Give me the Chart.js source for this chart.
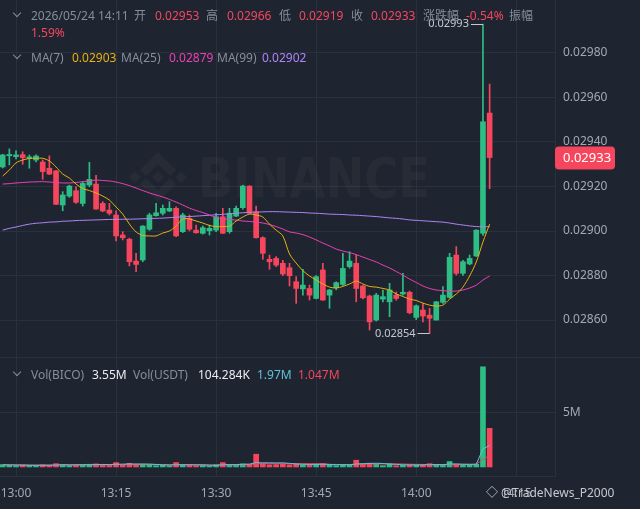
<!DOCTYPE html>
<html>
<head>
<meta charset="utf-8">
<script src="https://cdn.jsdelivr.net/npm/chart.js@4.4.1/dist/chart.umd.min.js"></script>
<style>
  body { margin: 0; background: #1f2530; width: 640px; height: 509px; overflow: hidden; position: relative;
         font-family: "Noto Sans", "Noto Sans CJK SC", sans-serif; }
  canvas { position: absolute; left: 0; }
  .t { position: absolute; font-size: 12px; line-height: 16px; color: #848e9c; white-space: nowrap; }
  .r { color: #f6465d; }
  .w { color: #eaecef; }
  .chev { position: absolute; width: 5px; height: 5px; border-right: 1.3px solid #848e9c;
          border-bottom: 1.3px solid #848e9c; transform: rotate(45deg); }
  #sep { position: absolute; left: 0; top: 357px; width: 640px; height: 1px; background: #2b313c; }
</style>
</head>
<body>
<canvas id="price" width="640" height="357" style="top:0"></canvas>
<canvas id="vol" width="640" height="152" style="top:357px"></canvas>
<div id="sep"></div>

<!-- legenda OHLC -->
<div class="chev" style="left:14px;top:10px"></div>
<span class="t" style="left:31px;top:8px">2026/05/24 14:11</span>
<span class="t" style="left:134px;top:8px">开</span>
<span class="t r" style="left:155px;top:8px">0.02953</span>
<span class="t" style="left:206px;top:8px">高</span>
<span class="t r" style="left:227px;top:8px">0.02966</span>
<span class="t" style="left:279px;top:8px">低</span>
<span class="t r" style="left:299px;top:8px">0.02919</span>
<span class="t" style="left:351px;top:8px">收</span>
<span class="t r" style="left:371px;top:8px">0.02933</span>
<span class="t" style="left:423px;top:8px">涨跌幅</span>
<span class="t r" style="left:466px;top:8px">-0.54%</span>
<span class="t" style="left:509px;top:8px">振幅</span>
<span class="t r" style="left:31px;top:25px">1.59%</span>

<!-- legenda MA -->
<div class="chev" style="left:14px;top:52px"></div>
<span class="t" style="left:31px;top:50px">MA(7)</span>
<span class="t" style="left:72px;top:50px;color:#e9b10e">0.02903</span>
<span class="t" style="left:121px;top:50px">MA(25)</span>
<span class="t" style="left:169px;top:50px;color:#eb40b5">0.02879</span>
<span class="t" style="left:217px;top:50px">MA(99)</span>
<span class="t" style="left:262px;top:50px;color:#b084f7">0.02902</span>

<!-- legenda volume -->
<div class="chev" style="left:14px;top:369px"></div>
<span class="t" style="left:31px;top:367px">Vol(BICO)</span>
<span class="t w" style="left:92px;top:367px">3.55M</span>
<span class="t" style="left:133px;top:367px">Vol(USDT)</span>
<span class="t w" style="left:198px;top:367px">104.284K</span>
<span class="t" style="left:257px;top:367px;color:#5fc3da">1.97M</span>
<span class="t r" style="left:298px;top:367px">1.047M</span>

<span class="t" style="left:486px;top:485px;color:#c4c9d0">&#9671; @TradeNews_P2000</span>

<script>
// horários dos candles (1 min)
const times = [
  '12:58','12:59','13:00','13:01','13:02','13:03','13:04','13:05','13:06','13:07',
  '13:08','13:09','13:10','13:11','13:12','13:13','13:14','13:15','13:16','13:17',
  '13:18','13:19','13:20','13:21','13:22','13:23','13:24','13:25','13:26','13:27',
  '13:28','13:29','13:30','13:31','13:32','13:33','13:34','13:35','13:36','13:37',
  '13:38','13:39','13:40','13:41','13:42','13:43','13:44','13:45','13:46','13:47',
  '13:48','13:49','13:50','13:51','13:52','13:53','13:54','13:55','13:56','13:57',
  '13:58','13:59','14:00','14:01','14:02','14:03','14:04','14:05','14:06','14:07',
  '14:08','14:09','14:10','14:11'
];

const opens = [
  0.029288,0.029338,0.029334,0.029343,0.029327,0.029319,0.029310,0.029282,0.029270,0.029117,
  0.029157,0.029181,0.029124,0.029207,0.029211,0.029124,0.029094,0.029072,0.028982,0.028963,
  0.028865,0.028870,0.029008,0.029069,0.029080,0.029090,0.029102,0.028997,0.029057,0.029004,
  0.028990,0.029001,0.029004,0.029064,0.028997,0.029067,0.029105,0.029202,0.029087,0.028970,
  0.028873,0.028877,0.028855,0.028835,0.028772,0.028740,0.028742,0.028697,0.028825,0.028712,
  0.028745,0.028760,0.028840,0.028855,0.028753,0.028708,0.028600,0.028694,0.028682,0.028712,
  0.028717,0.028725,0.028612,0.028645,0.028622,0.028600,0.028680,0.028702,0.028892,0.028810,
  0.028852,0.028888,0.028990,0.029530
];
const highs = [
  0.029345,0.029369,0.029360,0.029356,0.029342,0.029342,0.029319,0.029338,0.029273,0.029177,
  0.029206,0.029199,0.029222,0.029309,0.029250,0.029132,0.029124,0.029091,0.028997,0.028968,
  0.028900,0.029025,0.029080,0.029124,0.029117,0.029132,0.029109,0.029080,0.029072,0.029027,
  0.029023,0.029027,0.029080,0.029102,0.029102,0.029112,0.029206,0.029204,0.029112,0.028974,
  0.028892,0.028885,0.028868,0.028855,0.028795,0.028828,0.028757,0.028800,0.028855,0.028738,
  0.028772,0.028900,0.028907,0.028892,0.028755,0.028712,0.028720,0.028735,0.028765,0.028726,
  0.028810,0.028730,0.028668,0.028675,0.028653,0.028684,0.028750,0.028900,0.028930,0.028868,
  0.028892,0.029006,0.029930,0.029660
];
const lows = [
  0.029283,0.029297,0.029324,0.029300,0.029282,0.029311,0.029232,0.029253,0.029118,0.029091,
  0.029151,0.029124,0.029112,0.029199,0.029097,0.029087,0.029072,0.028955,0.028960,0.028843,
  0.028817,0.028862,0.029003,0.029067,0.029072,0.029087,0.028975,0.028993,0.029001,0.028990,
  0.028986,0.028982,0.028997,0.028988,0.028990,0.029064,0.029098,0.029078,0.028968,0.028873,
  0.028828,0.028840,0.028799,0.028753,0.028675,0.028712,0.028690,0.028695,0.028688,0.028653,
  0.028736,0.028756,0.028833,0.028682,0.028695,0.028555,0.028595,0.028682,0.028615,0.028689,
  0.028712,0.028628,0.028602,0.028592,0.028540,0.028600,0.028675,0.028698,0.028802,0.028800,
  0.028848,0.028885,0.028980,0.029190
];
const closes = [
  0.029342,0.029344,0.029342,0.029330,0.029333,0.029337,0.029267,0.029256,0.029120,0.029162,
  0.029202,0.029129,0.029214,0.029232,0.029099,0.029090,0.029080,0.028978,0.028970,0.028862,
  0.028850,0.029022,0.029072,0.029082,0.029102,0.029102,0.028978,0.029072,0.029008,0.028992,
  0.029015,0.029012,0.029064,0.028990,0.029080,0.029102,0.029202,0.029080,0.028970,0.028900,
  0.028862,0.028847,0.028807,0.028799,0.028742,0.028757,0.028712,0.028795,0.028690,0.028735,
  0.028768,0.028832,0.028865,0.028742,0.028700,0.028592,0.028712,0.028705,0.028735,0.028697,
  0.028725,0.028633,0.028664,0.028618,0.028608,0.028682,0.028712,0.028882,0.028810,0.028862,
  0.028877,0.029004,0.029491,0.029330
];

// médias móveis
const ma7 = [
  0.029247,0.029274,0.029306,0.029319,0.029326,0.029327,0.029327,0.029315,0.029288,0.029256,
  0.029238,0.029211,0.029191,0.029182,0.029171,0.029157,0.029139,0.029108,0.029076,0.029031,
  0.028996,0.028980,0.028978,0.028978,0.028991,0.029000,0.029022,0.029054,0.029054,0.029045,
  0.029036,0.029025,0.029020,0.029020,0.029022,0.029045,0.029063,0.029076,0.029072,0.029063,
  0.029031,0.029004,0.028978,0.028897,0.028856,0.028822,0.028798,0.028780,0.028762,0.028748,
  0.028744,0.028751,0.028762,0.028775,0.028762,0.028751,0.028748,0.028742,0.028735,0.028717,
  0.028706,0.028694,0.028688,0.028676,0.028667,0.028663,0.028667,0.028694,0.028717,0.028748,
  0.028798,0.028861,0.028951,0.029031
];
const ma25 = [
  0.029211,0.029213,0.029216,0.029218,0.029220,0.029221,0.029222,0.029220,0.029218,0.029216,
  0.029216,0.029218,0.029222,0.029225,0.029229,0.029227,0.029225,0.029220,0.029213,0.029204,
  0.029193,0.029182,0.029171,0.029162,0.029153,0.029142,0.029130,0.029117,0.029103,0.029092,
  0.029083,0.029072,0.029061,0.029054,0.029052,0.029049,0.029045,0.029043,0.029040,0.029036,
  0.029029,0.029020,0.029009,0.028996,0.028991,0.028984,0.028973,0.028960,0.028946,0.028933,
  0.028919,0.028910,0.028903,0.028894,0.028883,0.028872,0.028861,0.028847,0.028834,0.028818,
  0.028802,0.028784,0.028769,0.028753,0.028742,0.028735,0.028732,0.028730,0.028730,0.028735,
  0.028744,0.028757,0.028780,0.028798
];
const ma99 = [
  0.029004,0.029012,0.029018,0.029025,0.029031,0.029035,0.029037,0.029040,0.029041,0.029044,
  0.029045,0.029047,0.029048,0.029049,0.029050,0.029051,0.029052,0.029052,0.029053,0.029053,
  0.029054,0.029055,0.029056,0.029057,0.029058,0.029060,0.029062,0.029064,0.029065,0.029067,
  0.029069,0.029071,0.029073,0.029075,0.029077,0.029080,0.029082,0.029084,0.029085,0.029086,
  0.029087,0.029087,0.029086,0.029085,0.029084,0.029083,0.029081,0.029080,0.029078,0.029076,
  0.029075,0.029074,0.029072,0.029071,0.029069,0.029067,0.029065,0.029062,0.029059,0.029057,
  0.029054,0.029050,0.029048,0.029046,0.029044,0.029042,0.029040,0.029036,0.029031,0.029027,
  0.029023,0.029020,0.029019,0.029020
];

// volume em milhões (BICO)
const volumes = [
  0.22,0.15,0.12,0.18,0.14,0.10,0.20,0.16,0.30,0.22,
  0.15,0.18,0.20,0.25,0.28,0.20,0.15,0.40,0.18,0.34,
  0.22,0.25,0.20,0.12,0.15,0.10,0.40,0.20,0.15,0.12,
  0.14,0.10,0.20,0.40,0.22,0.15,0.28,0.25,1.17,0.30,
  0.20,0.22,0.25,0.20,0.30,0.18,0.20,0.25,0.30,0.15,
  0.12,0.22,0.18,0.62,0.28,0.35,0.25,0.12,0.30,0.12,
  0.15,0.22,0.18,0.20,0.30,0.20,0.15,0.50,0.25,0.15,
  0.18,0.25,9.20,3.55
];
const volMa5 = [
  0.20,0.19,0.18,0.17,0.16,0.15,0.16,0.16,0.18,0.20,
  0.20,0.20,0.21,0.20,0.22,0.23,0.22,0.25,0.26,0.27,
  0.27,0.27,0.26,0.23,0.19,0.17,0.20,0.20,0.20,0.19,
  0.19,0.16,0.15,0.20,0.21,0.22,0.25,0.26,0.40,0.38,
  0.38,0.37,0.38,0.33,0.27,0.24,0.23,0.23,0.25,0.23,
  0.21,0.21,0.20,0.27,0.30,0.32,0.34,0.32,0.26,0.24,
  0.20,0.19,0.18,0.18,0.21,0.22,0.21,0.27,0.28,0.25,
  0.24,0.25,1.66,1.97
];
const volMa10 = [
  0.20,0.20,0.19,0.19,0.18,0.18,0.17,0.17,0.17,0.18,
  0.18,0.18,0.19,0.20,0.20,0.21,0.21,0.22,0.23,0.24,
  0.24,0.24,0.24,0.23,0.23,0.22,0.22,0.22,0.22,0.21,
  0.20,0.19,0.18,0.19,0.19,0.19,0.20,0.21,0.29,0.30,
  0.30,0.30,0.30,0.30,0.30,0.30,0.30,0.30,0.30,0.24,
  0.23,0.22,0.22,0.25,0.26,0.27,0.28,0.28,0.28,0.28,
  0.27,0.25,0.24,0.23,0.22,0.21,0.20,0.22,0.23,0.24,
  0.24,0.24,0.70,1.05
];

const priceTicks = [0.0286, 0.0288, 0.0290, 0.0292, 0.0294, 0.0296, 0.0298];
const volTicks = [5];
const timeTicks = ['13:00', '13:15', '13:30', '13:45', '14:00', '14:15'];

const VERDE = '#2ebd85', VERMELHO = '#f6465d';
const GRADE = '#2b313c', TEXTO = '#a3a9b2';

// minutos desde 13:00
const minutos = (t) => { const [h, m] = t.split(':').map(Number); return (h - 13) * 60 + m; };
const xs = times.map(minutos);
const tickMin = timeTicks.map(minutos);
const cores = opens.map((o, i) => closes[i] >= o ? VERDE : VERMELHO);

const X_MIN = -2.4, X_MAX = 80.8;

// tira o espaço extra que o Chart.js reserva para os rótulos
const semPadding = s => { s.paddingLeft = 0; s.paddingRight = 0; s.paddingTop = 0; s.paddingBottom = 0; };

const eixoX = (mostrarLabels) => ({
  type: 'linear', min: X_MIN, max: X_MAX, offset: false,
  grid: { color: GRADE, drawTicks: false, offset: false },
  border: { display: mostrarLabels, color: GRADE },
  afterBuildTicks: s => { s.ticks = tickMin.map(v => ({ value: v })); },
  ticks: {
    display: mostrarLabels, color: TEXTO, padding: 10, maxRotation: 0,
    font: { family: 'Noto Sans', size: 12 },
    callback: (v, i) => timeTicks[i]
  },
  afterFit: s => { s.height = mostrarLabels ? 33 : 0; semPadding(s); }
});

function diamante(ctx, cx, cy, r) {
  ctx.moveTo(cx, cy - r); ctx.lineTo(cx + r, cy); ctx.lineTo(cx, cy + r); ctx.lineTo(cx - r, cy); ctx.closePath();
}

const decoracao = {
  id: 'decoracao',
  beforeDatasetsDraw(chart) {
    const ctx = chart.ctx;
    ctx.save();
    ctx.fillStyle = 'rgba(255,255,255,0.032)';
    // logo
    ctx.beginPath();
    diamante(ctx, 158, 177, 6);
    diamante(ctx, 135, 177, 6);
    diamante(ctx, 181, 177, 6);
    ctx.moveTo(158, 152); ctx.lineTo(176, 170); ctx.lineTo(170, 176); ctx.lineTo(158, 164); ctx.lineTo(146, 176); ctx.lineTo(140, 170); ctx.closePath();
    ctx.moveTo(158, 202); ctx.lineTo(176, 184); ctx.lineTo(170, 178); ctx.lineTo(158, 190); ctx.lineTo(146, 178); ctx.lineTo(140, 184); ctx.closePath();
    ctx.fill();
    ctx.font = 'bold 56px "DejaVu Sans"';
    const w = ctx.measureText('BINANCE').width;
    ctx.translate(198, 197);
    ctx.scale(232 / w, 1);
    ctx.fillText('BINANCE', 0, 0);
    ctx.restore();
  },
  afterDraw(chart) {
    const ctx = chart.ctx, xS = chart.scales.x, yS = chart.scales.y;
    ctx.save();
    ctx.font = '11px "Noto Sans"';
    ctx.textBaseline = 'middle';
    const marca = (idx, valor) => {
      const x = xS.getPixelForValue(xs[idx]), y = yS.getPixelForValue(valor);
      ctx.strokeStyle = '#c4c9d0'; ctx.lineWidth = 1;
      ctx.beginPath(); ctx.moveTo(x - 12, Math.round(y) + 0.5); ctx.lineTo(x, Math.round(y) + 0.5); ctx.stroke();
      ctx.fillStyle = '#c4c9d0'; ctx.textAlign = 'right';
      ctx.fillText(valor.toFixed(5), x - 14, y);
    };
    const maxH = Math.max(...highs), minL = Math.min(...lows);
    marca(highs.indexOf(maxH), maxH);
    marca(lows.indexOf(minL), minL);

    // etiqueta do último preço
    const ultimo = closes[closes.length - 1];
    const y = yS.getPixelForValue(ultimo);
    ctx.fillStyle = VERMELHO;
    ctx.beginPath(); ctx.roundRect(555, y - 11, 60, 23, 4); ctx.fill();
    ctx.fillStyle = '#ffffff'; ctx.textAlign = 'left';
    ctx.font = '13px "Noto Sans"';
    ctx.fillText(ultimo.toFixed(5), 563, y + 1);
    ctx.restore();
  }
};

const linhaMA = (dados, cor) => ({
  type: 'line', data: dados.map((v, i) => ({ x: xs[i], y: v })),
  borderColor: cor, borderWidth: 1, pointRadius: 0, tension: 0.3, order: 1
});

new Chart(document.getElementById('price'), {
  type: 'bar',
  data: {
    datasets: [
      linhaMA(ma7, '#e9b10e'),
      linhaMA(ma25, '#eb40b5'),
      linhaMA(ma99, '#b084f7'),
      {
        data: xs.map((x, i) => ({ x, y: [opens[i], closes[i]] })),
        backgroundColor: cores, barThickness: 5, minBarLength: 1, grouped: false, order: 2
      },
      {
        data: xs.map((x, i) => ({ x, y: [lows[i], highs[i]] })),
        backgroundColor: cores, barThickness: 1, grouped: false, order: 3
      }
    ]
  },
  options: {
    responsive: false, animation: false,
    layout: { padding: 0 },
    plugins: { legend: { display: false }, tooltip: { enabled: false } },
    scales: {
      x: eixoX(false),
      y: {
        position: 'right', min: 0.028434, max: 0.030038,
        grid: { color: GRADE, drawTicks: false },
        border: { display: true, color: GRADE },
        afterBuildTicks: s => { s.ticks = priceTicks.map(v => ({ value: v })); },
        ticks: { color: TEXTO, padding: 8, font: { family: 'Noto Sans', size: 12 }, callback: v => v.toFixed(5) },
        afterFit: s => { s.width = 85; semPadding(s); }
      }
    }
  },
  plugins: [decoracao]
});

new Chart(document.getElementById('vol'), {
  type: 'bar',
  data: {
    datasets: [
      { type: 'line', data: volMa5.map((v, i) => ({ x: xs[i], y: v })), borderColor: '#5fc3da', borderWidth: 1, pointRadius: 0, order: 1 },
      { type: 'line', data: volMa10.map((v, i) => ({ x: xs[i], y: v })), borderColor: '#e8476a', borderWidth: 1, pointRadius: 0, order: 1 },
      {
        data: volumes.map((v, i) => ({ x: xs[i], y: v })),
        backgroundColor: cores, barThickness: 5, grouped: false, order: 2
      }
    ]
  },
  options: {
    responsive: false, animation: false,
    layout: { padding: 0 },
    plugins: { legend: { display: false }, tooltip: { enabled: false } },
    scales: {
      x: eixoX(true),
      y: {
        position: 'right', min: -0.83, max: 10.1,
        grid: { color: GRADE, drawTicks: false },
        border: { display: true, color: GRADE },
        afterBuildTicks: s => { s.ticks = volTicks.map(v => ({ value: v })); },
        ticks: { color: TEXTO, padding: 8, font: { family: 'Noto Sans', size: 12 }, callback: v => v + 'M' },
        afterFit: s => { s.width = 85; semPadding(s); }
      }
    }
  }
});
</script>
</body>
</html>
